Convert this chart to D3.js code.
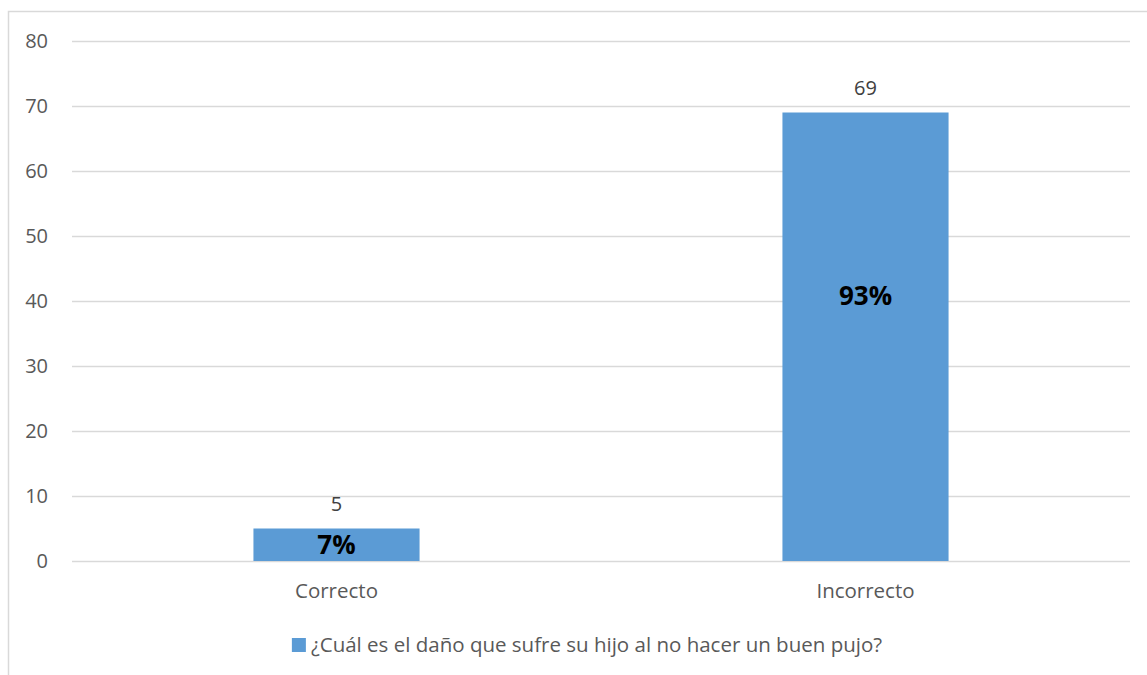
<!DOCTYPE html>
<html>
<head>
<meta charset="utf-8">
<script src="https://cdn.jsdelivr.net/npm/d3@7"></script>
<style>
  body { margin: 0; background: #fff; }
  svg { font-family: "Open Sans", sans-serif; }
</style>
</head>
<body>
<div id="chart"></div>
<script>
// data
const categories = ["Correcto", "Incorrecto"];
const values = [5, 69];
const percents = ["7%", "93%"];
const yTicks = [0, 10, 20, 30, 40, 50, 60, 70, 80];
const seriesName = "¿Cuál es el daño que sufre su hijo al no hacer un buen pujo?";

const width = 1147, height = 675;
const margin = {left: 72, right: 17, top: 41, bottom: 114};

const svg = d3.select("#chart").append("svg")
    .attr("width", width)
    .attr("height", height);

// outer chart border (cropped on right and bottom)
svg.append("path")
    .attr("d", "M8.5," + height + "V11.5H" + width)
    .attr("fill", "none")
    .attr("stroke", "#d9d9d9")
    .attr("stroke-width", 1.5);

const x = d3.scaleBand()
    .domain(categories)
    .range([margin.left, width - margin.right])
    .paddingInner(0.686)
    .paddingOuter(0.343);

const y = d3.scaleLinear()
    .domain([0, 80])
    .range([height - margin.bottom, margin.top]);

// gridlines
svg.append("g")
  .selectAll("line")
  .data(yTicks)
  .join("line")
    .attr("x1", margin.left)
    .attr("x2", width - margin.right)
    .attr("y1", d => Math.round(y(d)) + 0.5)
    .attr("y2", d => Math.round(y(d)) + 0.5)
    .attr("stroke", "#d9d9d9")
    .attr("stroke-width", 1.5);

// y tick labels
svg.append("g")
  .selectAll("text")
  .data(yTicks)
  .join("text")
    .attr("x", 48)
    .attr("y", d => y(d))
    .attr("dy", "0.35em")
    .attr("text-anchor", "end")
    .attr("fill", "#595959")
    .attr("font-size", 20)
    .text(d => d);

// bars
svg.append("g")
  .selectAll("rect")
  .data(values)
  .join("rect")
    .attr("x", (d, i) => x(categories[i]))
    .attr("width", x.bandwidth())
    .attr("y", d => y(d))
    .attr("height", d => y(0) - y(d))
    .attr("fill", "#5b9bd5");

// value labels
svg.append("g")
  .selectAll("text")
  .data(values)
  .join("text")
    .attr("x", (d, i) => x(categories[i]) + x.bandwidth() / 2)
    .attr("y", d => y(d) - 25)
    .attr("dy", "0.35em")
    .attr("text-anchor", "middle")
    .attr("fill", "#404040")
    .attr("font-size", 20)
    .text(d => d);

// percent labels
svg.append("g")
  .selectAll("text")
  .data(values)
  .join("text")
    .attr("x", (d, i) => x(categories[i]) + x.bandwidth() / 2)
    .attr("y", d => y(d) + Math.min((y(0) - y(d)) / 2, 183))
    .attr("dy", "0.35em")
    .attr("text-anchor", "middle")
    .attr("fill", "#000")
    .attr("font-size", 26)
    .attr("font-weight", "bold")
    .text((d, i) => percents[i]);

// category labels
svg.append("g")
  .selectAll("text")
  .data(categories)
  .join("text")
    .attr("x", d => x(d) + x.bandwidth() / 2)
    .attr("y", y(0) + 30)
    .attr("dy", "0.35em")
    .attr("text-anchor", "middle")
    .attr("fill", "#595959")
    .attr("font-size", 20.5)
    .text(d => d);

// legend
const legend = svg.append("g");
const legendText = legend.append("text")
    .attr("y", 645)
    .attr("dy", "0.35em")
    .attr("fill", "#595959")
    .attr("font-size", 20.5)
    .text(seriesName);
const tw = legendText.node().getComputedTextLength();
const lx = 587 - (tw + 19) / 2;
legend.append("rect")
    .attr("x", lx)
    .attr("y", 638)
    .attr("width", 14)
    .attr("height", 14)
    .attr("fill", "#5b9bd5");
legendText.attr("x", lx + 19);
</script>
</body>
</html>
